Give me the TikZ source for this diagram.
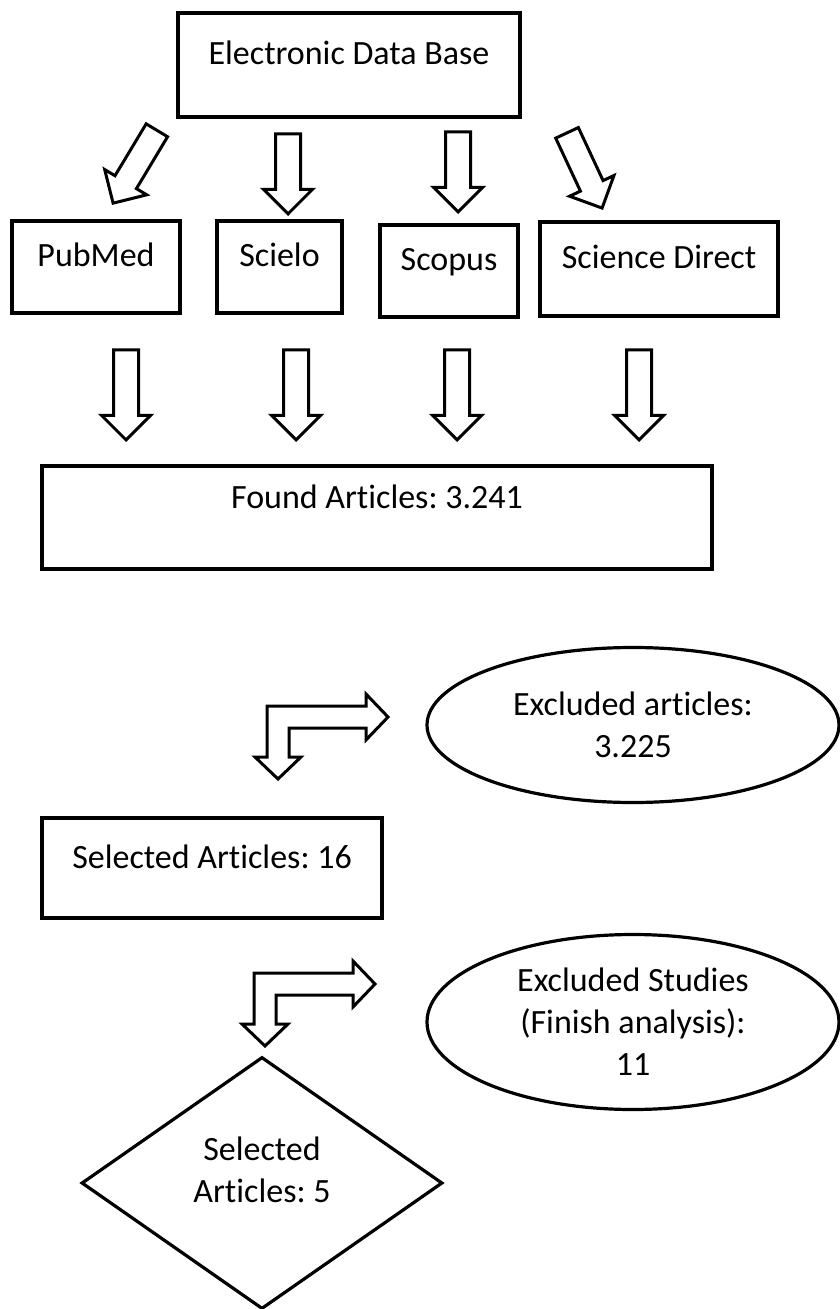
\documentclass[tikz,border=0pt]{standalone}
\usepackage{fontspec}
\setmainfont{Carlito}[Ligatures=NoCommon]
\usepackage{tikz}
\usetikzlibrary{shapes.geometric, shapes.arrows}
\frenchspacing

\begin{document}
\begin{tikzpicture}[
    x = 0.5pt, y = -0.5pt,
    font = \fontsize{17}{21}\selectfont,
    box/.style = {draw, line width=1.6pt, inner sep=0pt,
        text height=12pt, text depth=12pt},
    oval/.style = {draw, ellipse, line width=1.6pt, inner sep=0pt, minimum width=206pt},
    decision/.style = {draw, diamond, line width=1.6pt, inner sep=0pt,
        minimum width=180.5pt, minimum height=126pt},
    inside/.style = {align=center},
    blockarrow/.style = {draw, single arrow, line width=1.5pt, inner sep=5.5pt,
        single arrow head extend=6pt, anchor=tip},
    elbow/.style = {draw, line width=1.5pt, line join=miter}
  ]
  \useasboundingbox (0,0) rectangle (839,1309);

  % data bases
  \node[box, minimum width=171pt, minimum height=52pt] (edb) at (349,65) {Electronic Data Base};
  \node[box, minimum width=84pt, minimum height=46pt] (pubmed) at (96,267) {PubMed};
  \node[box, minimum width=62.5pt, minimum height=46pt] (scielo) at (279.5,267) {Scielo};
  \node[box, minimum width=69pt, minimum height=46pt] (scopus) at (449,271) {Scopus};
  \node[box, minimum width=119pt, minimum height=47pt] (scidir) at (659,269) {Science Direct};

  \node[blockarrow, rotate=-121, minimum height=42.5pt] (split1) at (112,205) {};
  \node[blockarrow, rotate=-90, minimum height=40pt] (split2) at (288,216) {};
  \node[blockarrow, rotate=-90, minimum height=40pt] (split3) at (458,214) {};
  \node[blockarrow, rotate=-65, minimum height=41.5pt] (split4) at (603,210) {};

  \foreach \x [count=\i] in {126,296,457,639}
  \node[blockarrow, rotate=-90, minimum height=45pt] (merge\i) at (\x,442) {};

  % screening
  \node[box, minimum width=335pt, minimum height=51.5pt, text height=8pt, text depth=16.5pt]
    (found) at (377,517.5) {Found Articles: 3.241};
  \node[oval, minimum height=77.5pt,
    label={[inside]center:Excluded articles:\\3.225}] (excl1) at (633,725) {};
  \node[box, minimum width=170pt, minimum height=50pt] (sel16) at (212,868) {Selected Articles: 16};
  \node[oval, minimum height=87.5pt,
    label={[inside]center:Excluded Studies\\(Finish analysis):\\11}] (excl2) at (633,1022) {};
  \node[decision, label={[inside, yshift=6.5pt]center:Selected\\Articles: 5}] (sel5) at (262,1183) {};

  \coordinate (bend1) at (267,706);
  \coordinate (bend2) at (254,973);
  \foreach \c in {bend1, bend2}
  \draw[elbow] (\c) -- ++(99,0) -- ++(0,-12) -- ++(22,23) -- ++(-22,23) -- ++(0,-12)
    -- ++(-77,0) -- ++(0,29) -- ++(12,0) -- ++(-23,22) -- ++(-23,-22) -- ++(12,0) -- cycle;
\end{tikzpicture}
\end{document}
